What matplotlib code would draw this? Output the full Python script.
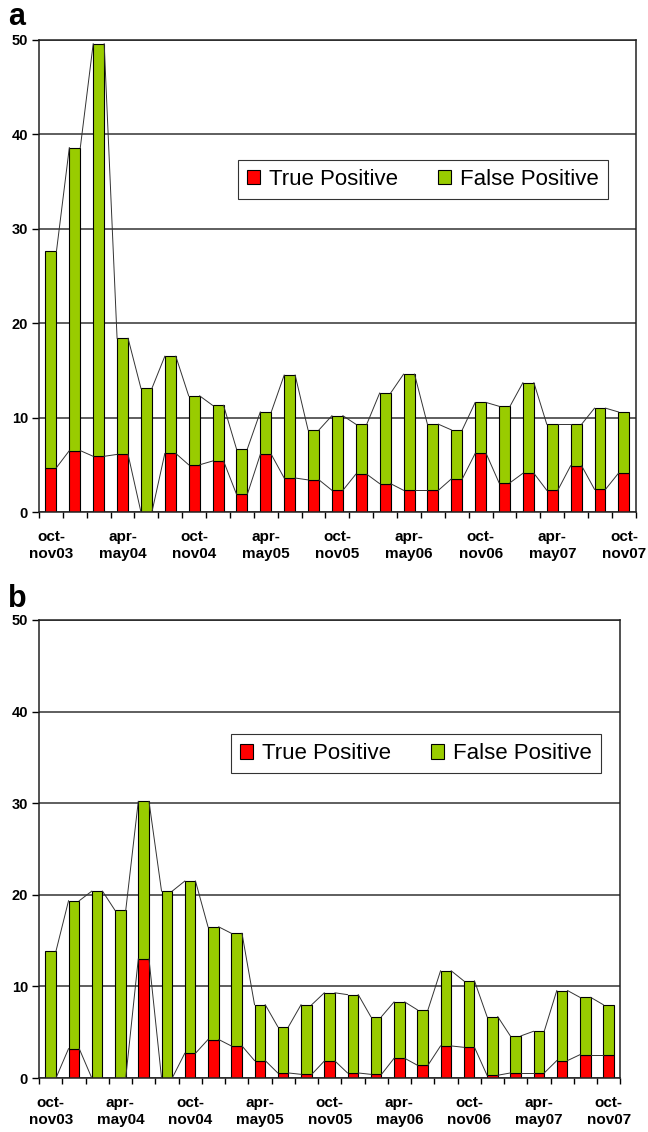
import matplotlib
matplotlib.use("Agg")
import matplotlib.pyplot as plt
import numpy as np

plt.rcParams['font.family'] = ['Liberation Sans', 'DejaVu Sans']

# two-month periods (25 per panel), only every 3rd one is labelled
tick_pos = list(range(0, 25, 3))
tick_labels = ['oct-\nnov03', 'apr-\nmay04', 'oct-\nnov04', 'apr-\nmay05', 'oct-\nnov05',
               'apr-\nmay06', 'oct-\nnov06', 'apr-\nmay07', 'oct-\nnov07']

# panel a
true_pos_a = [4.7, 6.5, 5.9, 6.1, 0.0, 6.2, 5.0, 5.4, 1.9, 6.1, 3.6, 3.4, 2.3,
              4.0, 3.0, 2.3, 2.3, 3.5, 6.2, 3.1, 4.1, 2.3, 4.9, 2.4, 4.1]
false_pos_a = [22.9, 32.1, 43.7, 12.3, 13.1, 10.3, 7.3, 5.9, 4.8, 4.5, 10.9, 5.3, 7.9,
               5.3, 9.6, 12.3, 7.0, 5.2, 5.4, 8.1, 9.6, 7.0, 4.4, 8.6, 6.5]

# panel b
true_pos_b = [0.0, 3.2, 0.0, 0.0, 13.0, 0.0, 2.7, 4.2, 3.5, 1.9, 0.55, 0.4, 1.85,
              0.55, 0.4, 2.15, 1.4, 3.5, 3.35, 0.3, 0.55, 0.55, 1.9, 2.55, 2.55]
false_pos_b = [13.85, 16.15, 20.4, 18.3, 17.2, 20.4, 18.8, 12.3, 12.3, 6.1, 5.05, 7.6, 7.45,
               8.55, 6.3, 6.15, 6.05, 8.2, 7.25, 6.4, 4.05, 4.55, 7.65, 6.25, 5.45]

RED = '#ff0000'
GREEN = '#99cc00'
W = 0.46


def draw_panel(ax, tp, fp, leg_anchor):
    tp = np.array(tp)
    fp = np.array(fp)
    x = np.arange(len(tp))
    ax.set_axisbelow(True)
    ax.yaxis.grid(True, color='#333333', linewidth=1.1)
    ax.bar(x, tp, width=W, color=RED, edgecolor='black', linewidth=0.8, label='True Positive')
    ax.bar(x, fp, width=W, bottom=tp, color=GREEN, edgecolor='black', linewidth=0.8,
           label='False Positive')

    # excel style series lines between the stacked tops
    for level in (tp, tp + fp):
        for i in range(len(x) - 1):
            ax.plot([x[i] + W / 2, x[i + 1] - W / 2], [level[i], level[i + 1]],
                    color='#333333', linewidth=0.7, zorder=3)

    ax.set_xlim(-0.5, len(x) - 0.5)
    ax.set_ylim(0, 50)
    ax.set_yticks(range(0, 51, 10))
    ax.set_xticks(tick_pos)
    ax.set_xticklabels(tick_labels, fontsize=11, fontweight='bold', linespacing=1.25)
    ax.set_xticks(np.arange(-0.5, len(x), 1.0), minor=True)
    ax.tick_params(axis='x', which='major', length=0, pad=13)
    ax.tick_params(axis='x', which='minor', length=4, width=1)
    ax.tick_params(axis='y', length=5, width=1, pad=3)
    for lab in ax.get_yticklabels():
        lab.set_fontweight('bold')
        lab.set_fontsize(10.5)
    for s in ax.spines.values():
        s.set_linewidth(1.1)
        s.set_color('#222222')

    leg = ax.legend(loc='upper left', bbox_to_anchor=leg_anchor, ncol=2, fontsize=16,
                    frameon=True, fancybox=False, shadow=False, borderaxespad=0,
                    handlelength=0.6, handleheight=0.6, handletextpad=0.4,
                    columnspacing=1.8, borderpad=0.4)
    leg.get_frame().set_edgecolor('black')
    leg.get_frame().set_linewidth(0.8)


fig = plt.figure(figsize=(6.48, 11.32), dpi=100)
ax_a = fig.add_axes([0.0602, 0.5477, 0.921, 0.417])
ax_b = fig.add_axes([0.0602, 0.0477, 0.897, 0.4046])

draw_panel(ax_a, true_pos_a, false_pos_a, (0.333, 0.746))
draw_panel(ax_b, true_pos_b, false_pos_b, (0.33, 0.75))

fig.text(0.012, 0.978, 'a', fontsize=22, fontweight='bold', ha='left', va='baseline')
fig.text(0.012, 0.4638, 'b', fontsize=22, fontweight='bold', ha='left', va='baseline')

fig.savefig('out.png', dpi=100)
